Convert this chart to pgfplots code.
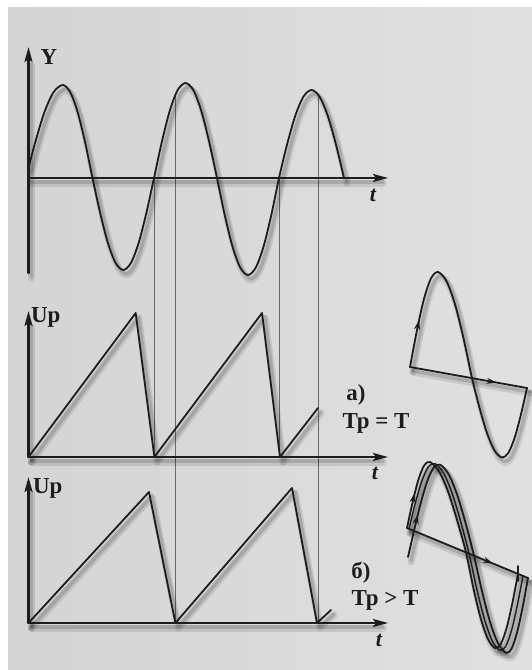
\documentclass[border=0pt]{standalone}
\usepackage{pgfplots}
\pgfplotsset{compat=1.18}
\usepackage{pgfplotstable}
\usepackage{fontspec}
\setmainfont{Liberation Serif}
\usetikzlibrary{arrows.meta, decorations.markings}

\definecolor{paper}{RGB}{212,212,212}
\definecolor{paperlight}{RGB}{224,224,224}
\definecolor{ink}{RGB}{28,28,28}
\definecolor{guide}{RGB}{105,105,105}

% signal Y(t), pixel coordinates (y grows downwards)
\pgfplotstableread{
x y
28.5 168
35.2 142.4
44.4 112.2
53.6 92.1
62.8 85
70.2 92.1
77.65 112.2
85.1 142.4
92.5 178
100.2 213.2
107.9 243
115.6 263
123.25 270
130.9 263
138.6 243
146.3 213.2
154 178
161.9 141.6
169.75 110.8
177.6 90.2
185.5 83
193.4 90.2
201.25 110.8
209.1 141.6
217 178
224.75 215.2
232.5 246.6
240.25 267.6
248 275
255.75 267.6
263.5 246.6
271.25 215.2
279 178
287.1 144.3
295.25 115.8
303.4 96.7
311.5 90
319.6 96.7
327.75 115.8
335.9 144.3
344 178
}\sigY

% sweep, case a) Tp = T
\pgfplotstableread{
x y
28.5 457
135.7 313
154.4 457
262 313
280 457
318 408
}\sawA

% sweep, case b) Tp > T
\pgfplotstableread{
x y
28.5 623
149 492
175.4 623
292 488
317 623
331 610
}\sawB

% screen picture a)
\pgfplotstableread{
x y
410 367
417 330.0
424 298.8
431 278.4
438 272.0
446.5 281.2
455 304.4
463.5 338.3
472 378.1
479.5 407.8
487 433.1
494.5 450.6
502 457.5
508.25 453.0
514.5 438.1
520.75 415.2
527 388.0
}\scrA

% screen picture b), three traces
\pgfplotstableread{
x y
407 528
412.75 501.5
418.5 479.3
424.25 465.3
430 462.0
439 471.4
448 491.5
457 519.8
466 552.4
473.25 587.5
480.5 617.6
487.75 638.7
495 648.0
500.75 644.0
506.5 628.3
512.25 603.6
518 573.8
}\scrBa
\pgfplotstableread{
x y
409 528.8
415.5 502.4
422 480.5
428.5 466.7
435 463.6
443.5 472.9
452 492.9
460.5 521.0
469 553.6
476.75 589.0
484.5 619.4
492.25 640.8
500 650.4
505.75 646.4
511.5 630.6
517.25 605.7
523 575.9
}\scrBb
\pgfplotstableread{
x y
408 557
414 530.9
420.5 504.1
427 481.9
433.5 467.8
440 464.6
448.5 474.0
457 494.3
465.5 522.7
474 555.7
482 591.2
490 621.7
498 643.2
506 652.9
511.5 648.8
517 632.8
522.5 607.9
528 578.0
}\scrBc

\begin{document}
\begin{tikzpicture}[
  lbl/.style={font=\fontsize{23}{23}\selectfont\bfseries, text=ink, inner sep=0pt},
  tl/.style={font=\fontsize{22}{22}\selectfont\bfseries\itshape, text=ink, inner sep=0pt}]
\begin{axis}[
  x={(1bp,0)}, y={(0,-1bp)},
  xmin=0, xmax=532, ymin=0, ymax=670,
  hide axis,
  every axis plot/.append style={line join=round, line cap=round},
  shadow/.style={draw=black, opacity=0.1, line width=7bp, xshift=3bp, yshift=-5bp},
  shadowin/.style={draw=black, opacity=0.14, line width=3.5bp, xshift=3bp, yshift=-4bp},
  curve/.style={draw=ink, line width=1.8bp},
  ax/.style={draw=ink, line width=2.4bp, -{Stealth[length=15bp, width=8bp, inset=3bp]}},
  guideline/.style={draw=guide, line width=0.6bp},
  mk/.style={postaction={decorate}, decoration={markings,
     mark=at position #1 with {\arrow{Stealth[length=10bp, width=6bp]}}}},
]
% paper
\addplot[draw=none, fill=white] coordinates {(0,0) (532,0) (532,670) (0,670)} -- cycle;
\addplot[draw=none, left color=paper, right color=paperlight] coordinates {(8,8) (532,8) (532,670) (8,670)} -- cycle;

% guide lines
\addplot[guideline] coordinates {(154,178) (154,457)};
\addplot[guideline] coordinates {(279,178) (279,457)};
\addplot[guideline] coordinates {(175,96) (175,623)};
\addplot[guideline] coordinates {(318,94) (318,623)};

% shadows (two layers for a soft edge)
\pgfplotsinvokeforeach{shadow,shadowin}{
\addplot[#1] coordinates {(28.5,273) (28.5,60)};
\addplot[#1] coordinates {(28.5,178) (380,178)};
\addplot[#1] coordinates {(28.5,457) (28.5,322)};
\addplot[#1] coordinates {(28.5,457) (380,457)};
\addplot[#1] coordinates {(28.5,623) (28.5,488)};
\addplot[#1] coordinates {(28.5,623) (380,623)};
\addplot[#1, smooth] table {\sigY};
\addplot[#1] table {\sawA};
\addplot[#1] table {\sawB};
\addplot[#1, smooth] table {\scrA};
\addplot[#1] coordinates {(410,367) (527,388)};
\addplot[#1, smooth] table {\scrBa};
\addplot[#1, smooth] table {\scrBb};
\addplot[#1, smooth] table {\scrBc};
\addplot[#1] coordinates {(407,528) (528,578)};
}

% axes
\addplot[ax] coordinates {(28.5,273) (28.5,47)};
\addplot[ax] coordinates {(28.5,178) (388,178)};
\addplot[ax] coordinates {(28.5,457) (28.5,311)};
\addplot[ax] coordinates {(28.5,457) (388,457)};
\addplot[ax] coordinates {(28.5,623) (28.5,477)};
\addplot[ax] coordinates {(28.5,623) (388,623)};

% signal and sweeps
\addplot[curve, smooth] table {\sigY};
\addplot[curve] table {\sawA};
\addplot[curve] table {\sawB};

% screen a)
\addplot[curve, smooth, mk=48bp] table {\scrA};
\addplot[curve, mk=88bp] coordinates {(410,367) (527,388)};

% screen b)
\addplot[curve, smooth, mk=36bp] table {\scrBa};
\addplot[curve, line width=1.4bp, smooth] table {\scrBb};
\addplot[curve, smooth, mk=44bp] table {\scrBc};
\addplot[curve, mk=93bp] coordinates {(407,528) (528,578)};
\addplot[curve] coordinates {(518,566) (518,581)};

% labels
\node[lbl] at (axis cs:49,57) {Y};
\node[lbl, anchor=base west] at (axis cs:31,322) {Uр};
\node[lbl, anchor=base west] at (axis cs:33,493) {Uр};
\node[tl] at (axis cs:373,195) {t};
\node[tl] at (axis cs:375,473) {t};
\node[tl] at (axis cs:379,640) {t};
\node[lbl] at (axis cs:356,395) {а)};
\node[lbl] at (axis cs:376,423) {Тр = Т};
\node[lbl] at (axis cs:361,573) {б)};
\node[lbl] at (axis cs:385,600) {Тр > Т};
\end{axis}
\end{tikzpicture}
\end{document}
